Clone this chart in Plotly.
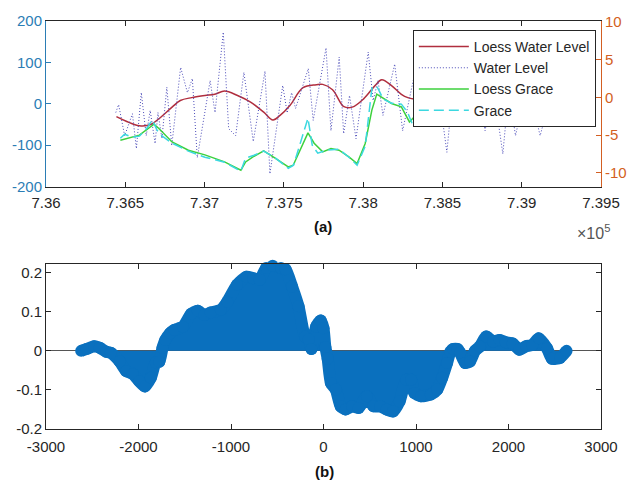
import plotly.graph_objects as go

FONT = "Liberation Sans, Arial, sans-serif"
TXT = "#262626"
BLUE_AX = "#2B7DB5"
ORANGE_AX = "#D35F22"

# ---- (a) water level and GRACE series (x in datenum days) ----
wl_x = [736440, 736458, 736496, 736545, 736570, 736601, 736632, 736657, 736688, 736706,
        736731, 736762, 736793, 736849, 736892, 736923, 736954, 737035, 737066, 737118,
        737152, 737196, 737248, 737307, 737381, 737412, 737493, 737521, 737549, 737574,
        737654, 737685, 737766, 737797, 737849, 737877, 737914, 737955, 738032, 738063,
        738094, 738125, 738199, 738249, 738323, 738422, 738459, 738528, 738583, 738658,
        738707, 738769, 738819, 738881, 738918, 738961, 739036, 739116, 739147]
wl_y = [-21, -2, -77, -24, -108, 27, -77, -16, -96, -21,
        -84, 40, -101, 88, 27, 61, -130, 56, -21, 173,
        -60, -77, 76, -91, 79, -169, 44, -22, 27, -11,
        85, -40, 135, -65, 113, -72, 20, -84, 125, 8,
        56, -28, 96, -65, 69, -32, 81, -117, 105, -32,
        69, -65, 44, -121, 32, -77, 56, -77, -33]

loess_wl_x = [736444, 736506, 736589, 736661, 736712, 736795, 736847, 736919, 737002, 737064,
              737126, 737208, 737290, 737373, 737431, 737476, 737538, 737621, 737704, 737745,
              737807, 737879, 737931, 738003, 738075, 738117, 738179, 738241, 738282, 738385,
              738509, 738633, 738757, 738819, 738870, 738912, 738943, 739005, 739067]
loess_wl_y = [-31, -42, -53, -50, -36, -8, 8, 15, 20, 23,
              31, 20, 4, -20, -39, -28, -4, 39, 46, 47,
              34, -7, -8, 12, 44, 58, 44, 23, 15, 8,
              -2, -11, -24, -36, -47, -32, -16, 3, 18]

loess_grace_x = [736469, 736537, 736589, 736681, 736712, 736795, 736898, 737002, 737126, 737229,
                 737259, 737312, 737373, 737440, 737528, 737559, 737652, 737691, 737745, 737797,
                 737848, 737910, 737962, 738013, 738055, 738086, 738127, 738179, 738241, 738292,
                 738323, 738354, 738447, 738571, 738695, 738819, 738943, 739036]
loess_grace_y = [-5.66, -5.23, -5.0, -3.54, -4.11, -5.89, -7.0, -7.61, -8.54, -9.64,
                 -8.54, -7.79, -7.08, -7.98, -9.2, -8.98, -4.69, -6.06, -7.21, -6.76,
                 -6.99, -7.88, -8.75, -6.1, -1.68, 0.44, -0.13, -0.8, -1.25, -3.24,
                 -2.57, -1.0, -0.1, 0.3, -0.36, -0.36, -0.62, -1.4]

grace_x = [736469, 736496, 736545, 736589, 736638, 736671, 736700, 736725, 736795, 736898,
           737002, 737126, 737229, 737258, 737312, 737373, 737440, 737528, 737561, 737611,
           737652, 737679, 737714, 737766, 737848, 737910, 737962, 738013, 738055, 738086,
           738127, 738179, 738241, 738280, 738313, 738342, 738447, 738571, 738695, 738819,
           738943, 739015, 739056]
grace_y = [-5.40, -4.87, -5.27, -5.13, -4.02, -2.96, -4.34, -5.0, -6.06, -7.12,
           -7.92, -8.58, -9.77, -8.05, -7.65, -7.12, -7.92, -9.38, -8.98, -5.66,
           -2.75, -6.33, -7.39, -7.0, -6.86, -7.92, -8.98, -6.46, 1.23, 1.50,
           -0.23, -0.76, -0.89, -1.95, -3.67, -1.42, -0.09, 0.17, -0.23, -0.09,
           -0.36, -0.8, -2.61]

top_xticks = [736000, 736500, 737000, 737500, 738000, 738500, 739000, 739500]
top_xlabels = ["7.36", "7.365", "7.37", "7.375", "7.38", "7.385", "7.39", "7.395"]
left_ticks = [-200, -100, 0, 100, 200]
left_labels = ["-200", "-100", "0", "100", "200"]
right_ticks = [-10, -5, 0, 5, 10]
right_labels = ["-10", "-5", "0", "5", "10"]

# ---- (b) cross-correlation by lag ----
lags = [-2620, -2560, -2480, -2420, -2350, -2300, -2204, -2132, -2062, -1991,
        -1931, -1867, -1814, -1775, -1740, -1710, -1660, -1610, -1520, -1430,
        -1360, -1290, -1220, -1110, -1040, -935, -830, -760, -690, -620,
        -550, -460, -410, -340, -270, -200, -160, -130, -80, -30,
        0, 20, 45, 80, 133, 186, 239, 310, 380, 470,
        540, 611, 682, 752, 823, 894, 947, 982, 1054, 1160,
        1230, 1283, 1336, 1372, 1400, 1450, 1478, 1531, 1584, 1637,
        1690, 1761, 1832, 1903, 1970, 2045, 2116, 2190, 2257, 2328,
        2416, 2469, 2557, 2628]
xcorr = [0.0, 0.005, 0.012, 0.008, -0.002, -0.005, -0.027, -0.052, -0.059, -0.078,
         -0.091, -0.069, -0.03, -0.028, 0.008, 0.028, 0.045, 0.054, 0.062, 0.095,
         0.103, 0.092, 0.098, 0.105, 0.126, 0.169, 0.19, 0.186, 0.182, 0.212,
         0.218, 0.212, 0.209, 0.165, 0.114, 0.037, 0.03, 0.005, 0.062, 0.078,
         0.058, 0.01, -0.02, -0.082, -0.099, -0.142, -0.15, -0.142, -0.146, -0.116,
         -0.142, -0.142, -0.15, -0.155, -0.129, -0.074, -0.074, -0.108, -0.116, -0.112,
         -0.099, -0.069, -0.031, -0.002, 0.005, 0.005, -0.005, -0.031, -0.027, 0.0,
         0.011, 0.037, 0.024, 0.028, 0.022, 0.019, 0.003, 0.012, 0.015, 0.032,
         0.007, -0.02, -0.018, 0.0]

bot_xticks = [-3000, -2000, -1000, 0, 1000, 2000, 3000]
bot_xlabels = ["-3000", "-2000", "-1000", "0", "1000", "2000", "3000"]
bot_yticks = [-0.2, -0.1, 0, 0.1, 0.2]
bot_ylabels = ["-0.2", "-0.1", "0", "0.1", "0.2"]

fig = go.Figure()

fig.add_trace(go.Scatter(x=loess_wl_x, y=loess_wl_y, name="Loess Water Level",
                         mode="lines", line=dict(color="#B02E3E", width=1.5, shape="spline"),
                         xaxis="x", yaxis="y"))
fig.add_trace(go.Scatter(x=wl_x, y=wl_y, name="Water Level", mode="lines",
                         line=dict(color="#4A4AB8", width=1, dash="1px,2px"),
                         xaxis="x", yaxis="y"))
fig.add_trace(go.Scatter(x=loess_grace_x, y=loess_grace_y, name="Loess Grace", mode="lines",
                         line=dict(color="#3DD13D", width=1.5),
                         xaxis="x", yaxis="y2"))
fig.add_trace(go.Scatter(x=grace_x, y=grace_y, name="Grace", mode="lines",
                         line=dict(color="#3CD8E0", width=1.5, dash="10px,5px"),
                         xaxis="x", yaxis="y2"))

fig.add_trace(go.Scatter(x=lags, y=xcorr, mode="lines+markers", showlegend=False,
                         line=dict(color="#0A70BE", width=12, shape="spline", smoothing=0.6),
                         marker=dict(color="#0A70BE", size=12),
                         fill="tozeroy", fillcolor="#0A70BE", cliponaxis=False,
                         xaxis="x2", yaxis="y3"))

axis_common = dict(showgrid=False, ticks="inside", ticklen=5, linewidth=1,
                   showline=True, tickfont=dict(size=15, family=FONT, color=TXT))

fig.update_layout(
    width=639, height=482,
    margin=dict(l=45, r=29, t=20, b=53),
    paper_bgcolor="white", plot_bgcolor="white",
    font=dict(family=FONT, color=TXT),
    xaxis=dict(axis_common, domain=[0, 1], anchor="y", range=[736000, 739500],
               tickvals=top_xticks, ticktext=top_xlabels, linecolor=TXT, tickcolor=TXT,
               mirror="ticks", zeroline=False, ticklabelstandoff=2),
    yaxis=dict(axis_common, domain=[0.594, 1.0], anchor="x", range=[-200, 200],
               tickvals=left_ticks, ticktext=left_labels, linecolor=BLUE_AX, tickcolor=BLUE_AX,
               tickfont=dict(size=15, family=FONT, color=BLUE_AX), zeroline=False),
    yaxis2=dict(axis_common, overlaying="y", side="right", anchor="x", range=[-11.82, 10.13],
                tickvals=right_ticks, ticktext=right_labels, linecolor=ORANGE_AX,
                tickcolor=ORANGE_AX, tickfont=dict(size=15, family=FONT, color=ORANGE_AX),
                zeroline=False),
    xaxis2=dict(axis_common, domain=[0, 1], anchor="y3", range=[-3000, 3000],
                tickvals=bot_xticks, ticktext=bot_xlabels, linecolor=TXT, tickcolor=TXT,
                mirror="ticks", zeroline=False, ticklabelstandoff=4),
    yaxis3=dict(axis_common, domain=[0, 0.405], anchor="x2", range=[-0.2, 0.223],
                tickvals=bot_yticks, ticktext=bot_ylabels, linecolor=TXT, tickcolor=TXT,
                mirror="ticks", zeroline=True, zerolinecolor="#555555", zerolinewidth=1),
    legend=dict(x=0.661, y=0.978, xanchor="left", yanchor="top",
                bgcolor="white", bordercolor=TXT, borderwidth=1,
                font=dict(size=14, family=FONT, color=TXT), itemwidth=50,
                tracegroupgap=0),
    annotations=[
        dict(text="<b>(a)</b>", xref="paper", yref="paper", x=0.499, y=0.496,
             xanchor="center", yanchor="middle",
             showarrow=False, font=dict(size=15, family=FONT, color="#111111")),
        dict(text="\u00d710<sup>5</sup>", xref="paper", yref="paper", x=1.02, y=0.484,
             xanchor="right", yanchor="middle", showarrow=False,
             font=dict(size=16, family=FONT, color="#555555")),
        dict(text="<b>(b)</b>", xref="paper", yref="paper", x=0.501, y=-0.103,
             xanchor="center", yanchor="middle",
             showarrow=False, font=dict(size=15, family=FONT, color="#111111")),
    ],
)

fig.write_html("out.html")
